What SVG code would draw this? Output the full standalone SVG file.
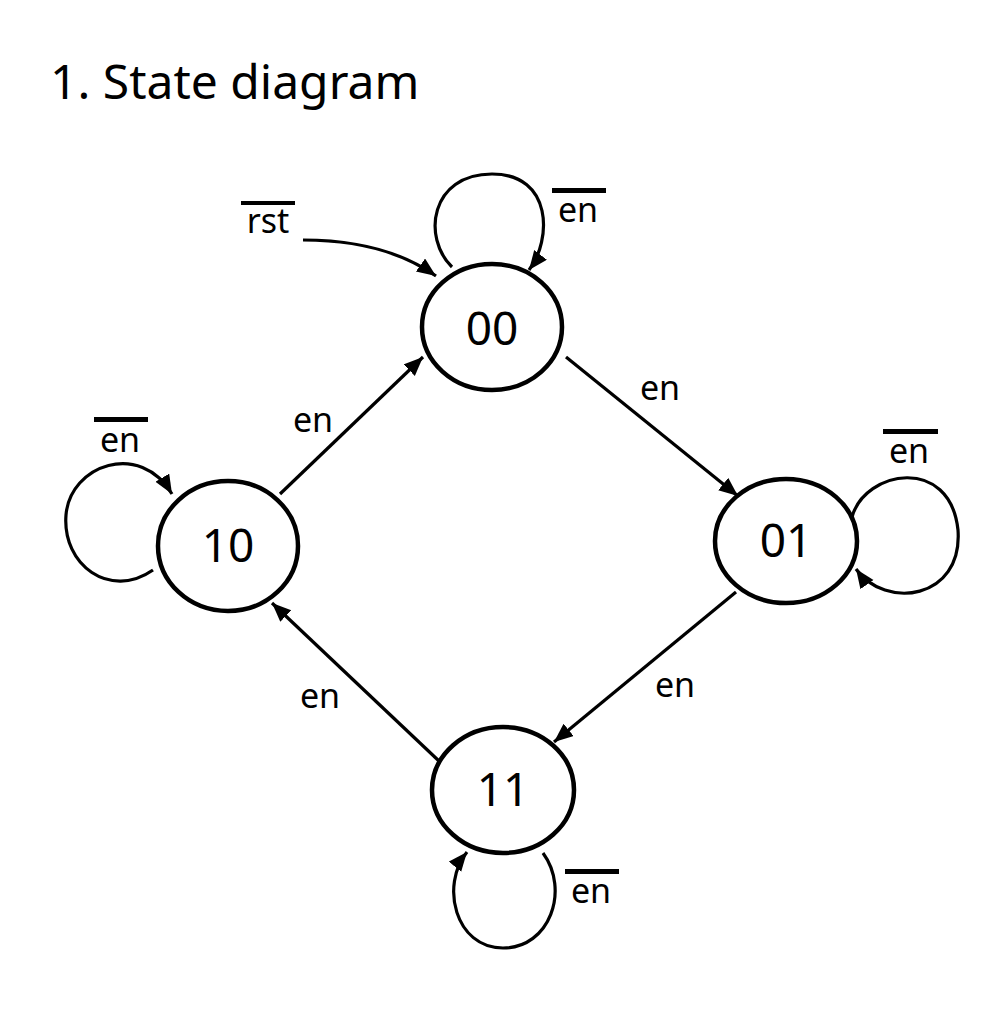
<svg xmlns="http://www.w3.org/2000/svg" width="1000" height="1034" viewBox="0 0 1000 1034">
<style>
.node{fill:none;stroke:#000;stroke-width:4.5}
.edge{fill:none;stroke:#000;stroke-width:3.2}
.lbl{font-family:"Noto Sans","Open Sans",sans-serif;font-size:34px;fill:#000;text-anchor:middle}
.nlbl{font-family:"Noto Sans","Open Sans",sans-serif;font-size:46px;fill:#000;text-anchor:middle}
.title{font-family:"Noto Sans","Open Sans",sans-serif;font-size:48px;fill:#000}
.bar{fill:#000}
</style>
<defs>
<marker id="ah" markerUnits="userSpaceOnUse" markerWidth="22" markerHeight="18" refX="19" refY="8" orient="auto">
<path d="M0,0 L19,8 L0,16 z" fill="#000"/>
</marker>
</defs>
<rect width="1000" height="1034" fill="#fff"/>
<text class="title" x="50" y="99">1. State diagram</text>
<g id="connectors">
<path class="edge" d="M303,240 Q385,240 436,276" marker-end="url(#ah)"/>
<path class="edge" d="M452,267 C422,238 430,174 492,174 C553,174 552,240 529,270" marker-end="url(#ah)"/>
<path class="edge" d="M566,357 L738,496" marker-end="url(#ah)"/>
<path class="edge" d="M280,494 L423,357" marker-end="url(#ah)"/>
<path class="edge" d="M736,592 L554,742" marker-end="url(#ah)"/>
<path class="edge" d="M439,761 L272,603" marker-end="url(#ah)"/>
<path class="edge" d="M153,570 C110,600 62,565 66,515 C70,465 140,440 172,494" marker-end="url(#ah)"/>
<path class="edge" d="M852,517 C865,470 950,455 958,530 C963,600 885,610 856,569" marker-end="url(#ah)"/>
<path class="edge" d="M543,853 C570,890 550,948 503,948 C455,948 440,885 467,852" marker-end="url(#ah)"/>
</g>
<g id="labels">
<rect class="bar" x="241" y="201" width="54" height="4"/>
<text class="lbl" x="268" y="233">rst</text>
<rect class="bar" x="552" y="188" width="54" height="5"/>
<text class="lbl" x="578" y="222">en</text>
<text class="lbl" x="660" y="400">en</text>
<text class="lbl" x="313" y="432">en</text>
<rect class="bar" x="94" y="417" width="54" height="5"/>
<text class="lbl" x="120" y="452">en</text>
<rect class="bar" x="883" y="429" width="55" height="5"/>
<text class="lbl" x="909" y="463">en</text>
<text class="lbl" x="675" y="697">en</text>
<text class="lbl" x="320" y="708">en</text>
<rect class="bar" x="565" y="869" width="54" height="5"/>
<text class="lbl" x="591" y="903">en</text>
</g>
<g id="n00">
<ellipse class="node" cx="492" cy="327" rx="70" ry="63"/>
<text class="nlbl" x="492" y="345">00</text>
</g>
<g id="n10">
<ellipse class="node" cx="228" cy="546" rx="70" ry="65"/>
<text class="nlbl" x="228" y="562">10</text>
</g>
<g id="n01">
<ellipse class="node" cx="786" cy="541" rx="71" ry="62"/>
<text class="nlbl" x="786" y="557">01</text>
</g>
<g id="n11">
<ellipse class="node" cx="503" cy="790" rx="71" ry="63"/>
<text class="nlbl" x="503" y="806">11</text>
</g>
</svg>
